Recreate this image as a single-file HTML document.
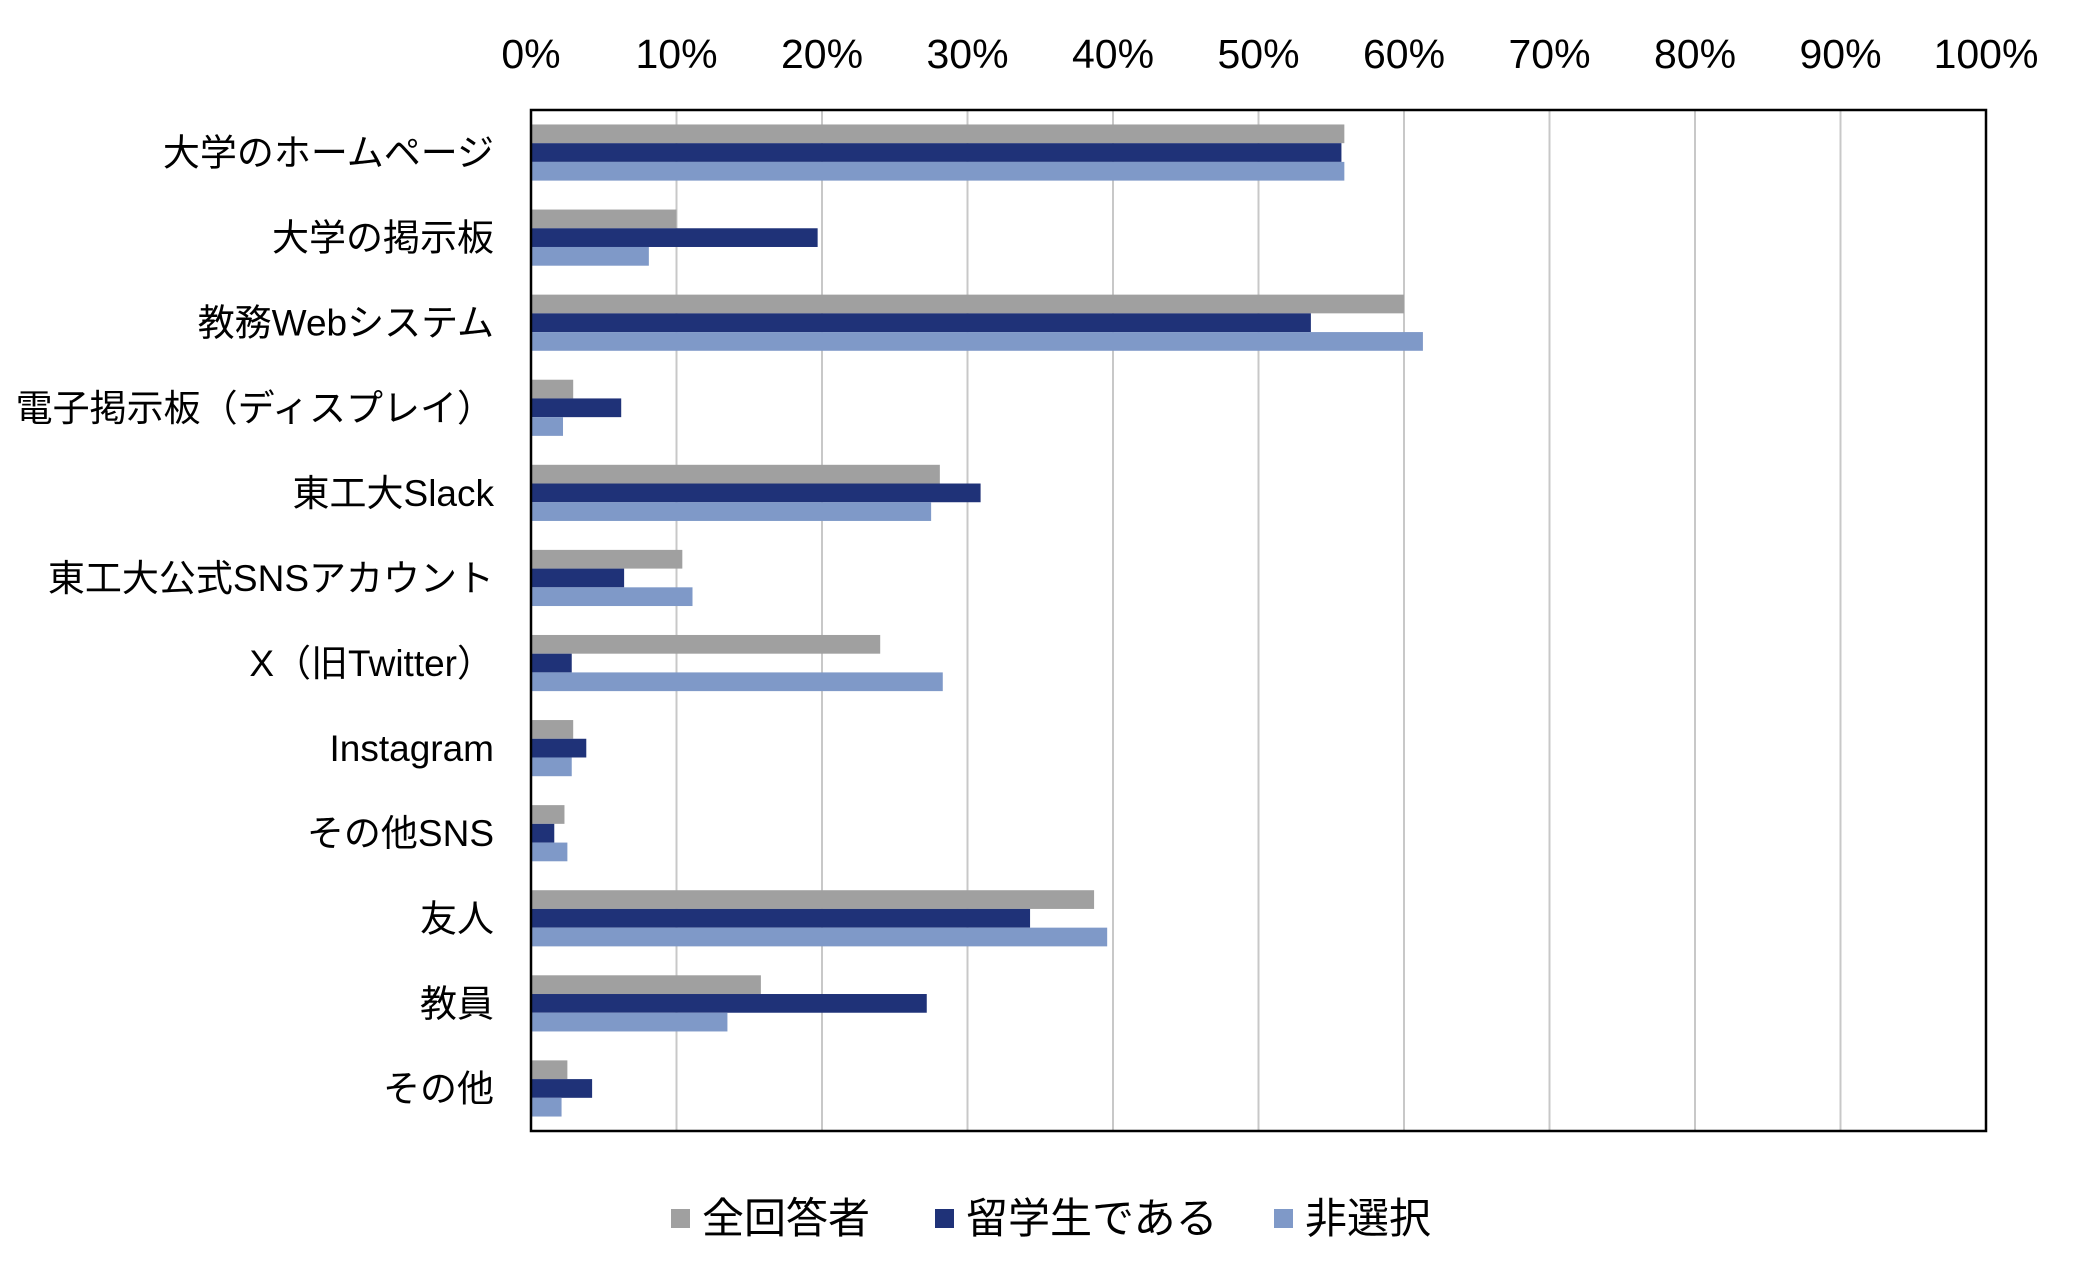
<!DOCTYPE html>
<html><head><meta charset="utf-8"><style>
html,body{margin:0;padding:0;background:#fff}
svg{display:block;font-family:"Liberation Sans","Noto Sans CJK JP",sans-serif}
</style></head><body>
<svg id="chart" width="2085" height="1277" viewBox="0 0 2085 1277" xmlns="http://www.w3.org/2000/svg"></svg>
<script>
const categories=["大学のホームページ","大学の掲示板","教務Webシステム","電子掲示板（ディスプレイ）","東工大Slack","東工大公式SNSアカウント","X（旧Twitter）","Instagram","その他SNS","友人","教員","その他"];
const seriesNames=["全回答者","留学生である","非選択"];
const allRespondents=[55.9,10.0,60.0,2.9,28.1,10.4,24.0,2.9,2.3,38.7,15.8,2.5];
const intlStudents=[55.7,19.7,53.6,6.2,30.9,6.4,2.8,3.8,1.6,34.3,27.2,4.2];
const notSelected=[55.9,8.1,61.3,2.2,27.5,11.1,28.3,2.8,2.5,39.6,13.5,2.1];
const tickValues=[0,10,20,30,40,50,60,70,80,90,100];
const tickLabels=["0%","10%","20%","30%","40%","50%","60%","70%","80%","90%","100%"];
const colors=["#a0a0a0","#1f3278","#7f99c8"];
const series=[allRespondents,intlStudents,notSelected];
const svg=document.getElementById('chart');
const NS="http://www.w3.org/2000/svg";
const L=531,R=1986,T=110,B=1131;
const x=v=>L+(R-L)*v/100;
const band=(B-T)/categories.length;
const barH=band*0.22;
function mk(t,a,p){const e=document.createElementNS(NS,t);for(const k in a)e.setAttribute(k,a[k]);(p||svg).appendChild(e);return e;}
tickValues.forEach((v,i)=>{
  if(v>0&&v<100){const g=mk('line',{x1:x(v),x2:x(v),y1:T,y2:B,stroke:'#c8c8c8','stroke-width':2});
  
  }
  const t=mk('text',{x:x(v),y:68,'text-anchor':'middle','font-size':41,fill:'#000'});
  t.textContent=tickLabels[i];
  
  
});
categories.forEach((c,i)=>{
  const y0=T+band*i+band/2;
  series.forEach((s,j)=>{
    const r=mk('rect',{x:L,y:y0-1.5*barH+j*barH,width:x(s[i])-L,height:barH,fill:colors[j]});
    
    
  });
  const t=mk('text',{x:494,y:y0+13,'text-anchor':'end','font-size':37,fill:'#000'});
  t.textContent=c;
  
  
});
const f=mk('rect',{x:L,y:T,width:R-L,height:B-T,fill:'none',stroke:'#000','stroke-width':2.5});


const legX=[671,935,1274];
seriesNames.forEach((n,j)=>{
  const g=mk('g',{});
  
  
  mk('rect',{x:legX[j],y:1209,width:19,height:19,fill:colors[j]},g);
  const t=mk('text',{x:legX[j]+31,y:1233,'font-size':42,fill:'#000'},g);
  t.textContent=n;
});
</script>
</body></html>
